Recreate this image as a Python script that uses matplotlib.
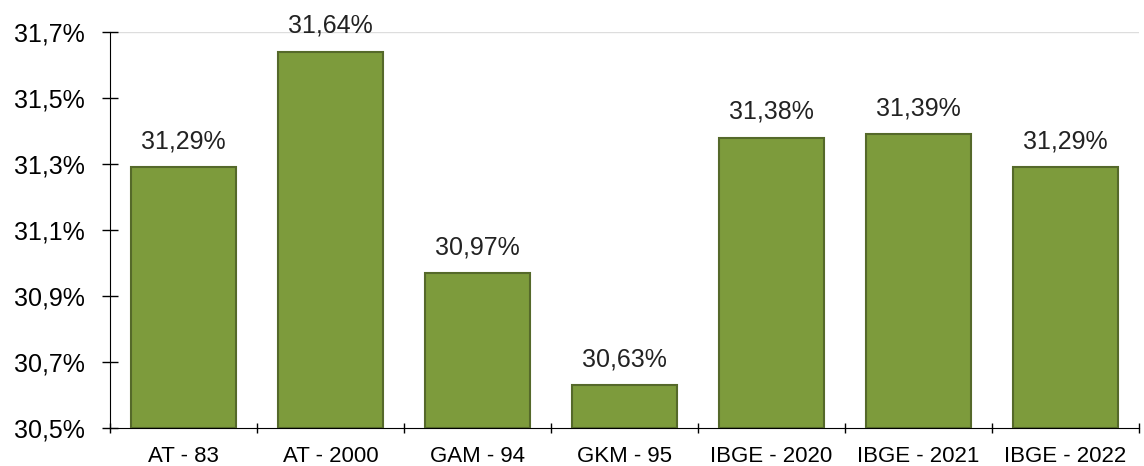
import matplotlib.pyplot as plt
from matplotlib.ticker import FixedLocator

plt.rcParams['font.family'] = ['Liberation Sans', 'DejaVu Sans']

categories = ["AT - 83", "AT - 2000", "GAM - 94", "GKM - 95",
              "IBGE - 2020", "IBGE - 2021", "IBGE - 2022"]
values = [31.29, 31.64, 30.97, 30.63, 31.38, 31.39, 31.29]
yticks = [30.5, 30.7, 30.9, 31.1, 31.3, 31.5, 31.7]

fig = plt.figure(figsize=(11.44, 4.66), dpi=100)
ax = fig.add_axes([110 / 1144, 38 / 466, 1029 / 1144, 396 / 466])

x = list(range(len(categories)))
base = 30.5
ax.bar(x, [v - base for v in values], bottom=base, width=0.72,
       color="#7d9b3c", edgecolor="#55692a", linewidth=1.5, zorder=3)

for xi, v in zip(x, values):
    ax.annotate(f"{v:.2f}%".replace(".", ","), (xi, v), xytext=(0, 10),
                textcoords="offset points", ha="center", va="bottom",
                fontsize=18, color="#222222")

ax.set_xlim(-0.5, len(categories) - 0.5)
ax.set_ylim(30.5, 31.7)
ax.set_yticks(yticks)
ax.set_yticklabels([f"{t:.1f}%".replace(".", ",") for t in yticks], fontsize=18)
ax.set_xticks(x)
ax.set_xticklabels(categories, fontsize=16)
ax.xaxis.set_minor_locator(FixedLocator([i + 0.5 for i in range(-1, len(categories))]))
ax.tick_params(axis="x", which="major", length=0, pad=13)
ax.tick_params(axis="x", which="minor", length=7, direction="inout", width=1)
ax.tick_params(axis="y", length=12, direction="inout", width=1, pad=12)

ax.axhline(31.7, color="#dddddd", linewidth=1, zorder=1)
ax.spines["top"].set_visible(False)
ax.spines["right"].set_visible(False)

fig.savefig("out.png", dpi=100)
